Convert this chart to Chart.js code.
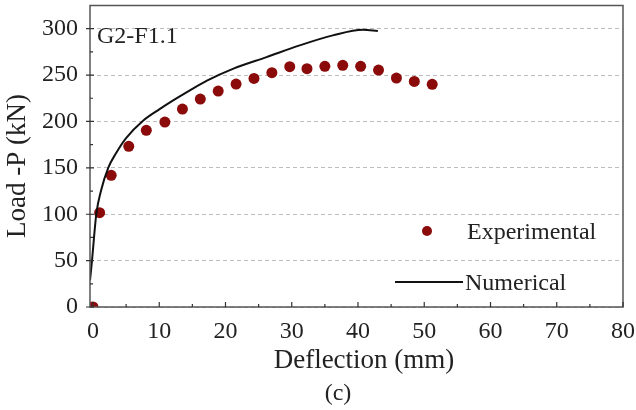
<!DOCTYPE html>
<html>
<head>
<meta charset="utf-8">
<script src="https://cdn.jsdelivr.net/npm/chart.js@4.4.1/dist/chart.umd.min.js"></script>
<style>
  html, body { margin: 0; padding: 0; background: #fff; }
  #wrap { width: 636px; height: 410px; }
</style>
</head>
<body>
<div id="wrap"><canvas id="chart" width="636" height="410"></canvas></div>
<script>
// test data, deflection (mm) vs load (kN)
const expDeflection = [0, 1.0, 2.75, 5.4, 8.05, 10.85, 13.5, 16.2, 18.9, 21.6, 24.3, 27.0, 29.7, 32.3, 35.0, 37.7, 40.4, 43.1, 45.8, 48.5, 51.2];
const expLoad = [0, 101.7, 141.9, 173.2, 190.4, 199.4, 213.4, 224.1, 232.8, 240.3, 246.4, 252.6, 259.0, 256.9, 259.4, 260.5, 259.4, 255.4, 246.8, 243.2, 240.0];

// FE model curve
const numDeflection = [-0.45, -0.15, 0.5, 1.2, 2.3, 3.5, 5.0, 7.6, 10.0, 12.1, 14.5, 17.2, 21.2, 26.2, 31.2, 36.2, 40.75, 43.0];
const numLoad = [28.7, 50, 100, 125, 150, 166, 182, 201, 213, 222.7, 233, 244, 257, 269.4, 282, 292.8, 298.9, 297.6];

const xTicks = [0, 10, 20, 30, 40, 50, 60, 70, 80];
const yTicks = [0, 50, 100, 150, 200, 250, 300];

const specimen = 'G2-F1.1';
const panelTag = '(c)';
const xTitle = 'Deflection (mm)';
const yTitle = 'Load -P (kN)';
const seriesNames = ['Experimental', 'Numerical'];

const serif = "'Liberation Serif', 'Times New Roman', serif";
const textColor = '#222';
const dotColor = '#8b0a0a';

function pairs(xs, ys) {
  return xs.map((x, i) => ({ x: x, y: ys[i] }));
}

// box, tick marks, labels and legend on top of the plot
const extras = {
  id: 'extras',
  afterDraw(chart) {
    const ctx = chart.ctx;
    const a = chart.chartArea;
    const xs = chart.scales.x;
    const ys = chart.scales.y;
    ctx.save();

    ctx.strokeStyle = '#555';
    ctx.lineWidth = 1.5;
    ctx.strokeRect(a.left, a.top, a.right - a.left, a.bottom - a.top);

    ctx.strokeStyle = '#333';
    ctx.lineWidth = 1.2;
    ctx.beginPath();
    for (let v = 0; v <= 80; v += 5) {
      const px = xs.getPixelForValue(v);
      const len = v % 10 === 0 ? 5 : 3;
      ctx.moveTo(px, a.bottom);
      ctx.lineTo(px, a.bottom - len);
    }
    for (let v = 0; v <= 300; v += 25) {
      const py = ys.getPixelForValue(v);
      if (v % 50 === 0) {
        ctx.moveTo(a.left - 4, py);
        ctx.lineTo(a.left + 4, py);
      } else {
        ctx.moveTo(a.left, py);
        ctx.lineTo(a.left + 3, py);
      }
    }
    ctx.stroke();

    ctx.fillStyle = textColor;
    ctx.textBaseline = 'middle';

    ctx.font = '24px ' + serif;
    ctx.textAlign = 'left';
    ctx.fillText(specimen, 97, 37);

    // legend
    ctx.fillStyle = dotColor;
    ctx.beginPath();
    ctx.arc(427, 231, 5, 0, Math.PI * 2);
    ctx.fill();
    ctx.fillStyle = textColor;
    ctx.fillText(seriesNames[0], 467, 233);

    ctx.strokeStyle = '#111';
    ctx.lineWidth = 2;
    ctx.beginPath();
    ctx.moveTo(395, 282);
    ctx.lineTo(463, 282);
    ctx.stroke();
    ctx.fillText(seriesNames[1], 465, 284);

    // axis titles and panel tag
    ctx.font = '27px ' + serif;
    ctx.textAlign = 'center';
    ctx.fillText(xTitle, 364, 361);
    ctx.font = '24px ' + serif;
    ctx.fillText(panelTag, 338, 394);

    ctx.font = '27px ' + serif;
    ctx.translate(18, 166);
    ctx.rotate(-Math.PI / 2);
    ctx.fillText(yTitle, 0, 0);

    ctx.restore();
  }
};

new Chart(document.getElementById('chart'), {
  type: 'scatter',
  data: {
    datasets: [
      {
        label: seriesNames[1],
        data: pairs(numDeflection, numLoad),
        showLine: true,
        borderColor: '#111',
        borderWidth: 2,
        pointRadius: 0,
        cubicInterpolationMode: 'monotone',
        clip: 0
      },
      {
        label: seriesNames[0],
        data: pairs(expDeflection, expLoad),
        showLine: false,
        backgroundColor: dotColor,
        borderColor: dotColor,
        borderWidth: 0,
        pointRadius: 5.5,
        clip: 0
      }
    ]
  },
  plugins: [extras],
  options: {
    responsive: false,
    animation: false,
    layout: { padding: { top: 5, right: 13, left: 0, bottom: 0 } },
    plugins: { legend: { display: false }, tooltip: { enabled: false } },
    scales: {
      x: {
        type: 'linear',
        min: -0.45,
        max: 80,
        afterBuildTicks: s => { s.ticks = xTicks.map(v => ({ value: v })); },
        afterFit: s => {
          s.height = 103;
          s.paddingLeft = 0;
          s.paddingRight = 0;
        },
        grid: { display: false, drawTicks: false },
        border: { display: false },
        ticks: {
          padding: 10,
          maxRotation: 0,
          color: textColor,
          font: { family: serif, size: 24 }
        }
      },
      y: {
        type: 'linear',
        min: 0,
        max: 325,
        afterBuildTicks: s => { s.ticks = yTicks.map(v => ({ value: v })); },
        afterFit: s => {
          s.width = 90;
          s.paddingTop = 0;
          s.paddingBottom = 0;
        },
        grid: { color: '#bdbdbd', lineWidth: 1, drawTicks: false },
        border: { display: false, dash: [4, 3] },
        ticks: {
          padding: 12,
          color: textColor,
          font: { family: serif, size: 24 }
        }
      }
    }
  }
});
</script>
</body>
</html>
